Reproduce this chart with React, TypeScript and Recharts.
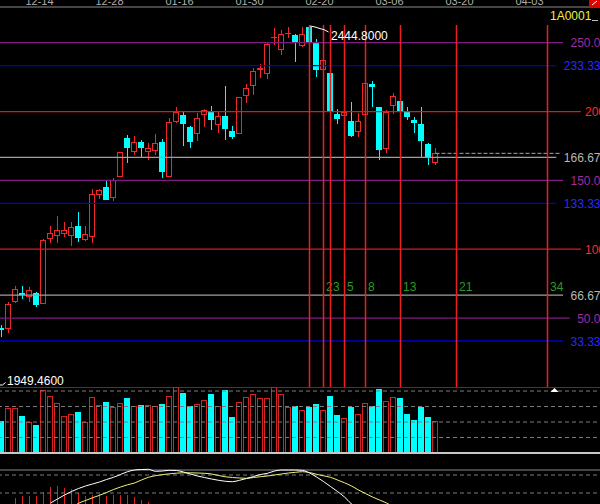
import React from 'react';
import { ComposedChart, Bar, Line, XAxis, YAxis, ReferenceLine, ReferenceDot } from 'recharts';

const FONT = '"Liberation Sans", Arial, sans-serif';
const RED = '#F02828';
const VOL_RED = '#D82222';
const CYAN = '#00FFFF';

// ---- price candles (index 0..62) ----
const opens = [1962.3, 1963.8, 2006.8, 2017.9, 2013.2, 2019.5, 2003.6, 2106.0, 2110.8, 2114.6, 2110.8, 2126.2, 2104.4, 2109.8, 2176.1, 2187.9, 2171.3, 2204.8, 2265.9, 2245.2, 2260.0, 2244.6, 2247.3, 2260.0, 2204.8, 2293.0, 2302.6, 2283.9, 2273.9, 2304.2, 2307.8, 2287.6, 2301.5, 2277.6, 2273.9, 2334.4, 2349.7, 2375.2, 2368.8, 2425.2, 2407.7, 2431.6, 2430.5, 2413.4, 2443.2, 2418.2, 2375.2, 2370.4, 2304.6, 2302.6, 2293.5, 2276.5, 2303.5, 2352.4, 2315.3, 2250.0, 2317.9, 2325.3, 2307.8, 2295.6, 2288.7, 2256.9, 2227.1];
const highs = [1968.6, 2005.2, 2030.7, 2030.2, 2029.1, 2021.1, 2105.5, 2126.2, 2142.2, 2132.1, 2132.1, 2148.6, 2126.2, 2184.7, 2184.7, 2197.9, 2202.2, 2244.1, 2271.2, 2270.1, 2263.2, 2258.9, 2272.3, 2264.8, 2297.8, 2315.3, 2307.8, 2286.0, 2305.7, 2313.1, 2317.4, 2307.8, 2349.2, 2285.5, 2332.2, 2352.4, 2377.4, 2384.3, 2417.2, 2441.6, 2438.4, 2442.7, 2432.0, 2444.0, 2444.8, 2423.6, 2391.8, 2370.4, 2312.1, 2308.6, 2324.2, 2305.7, 2354.0, 2357.2, 2315.3, 2311.0, 2337.6, 2325.3, 2315.3, 2300.3, 2315.3, 2258.9, 2250.9];
const lows = [1949.46, 1955.9, 2003.6, 2010.5, 2005.2, 1997.2, 2002.0, 2098.7, 2098.7, 2109.2, 2094.4, 2101.3, 2102.8, 2099.7, 2169.7, 2166.9, 2166.1, 2204.3, 2227.1, 2239.8, 2236.6, 2231.4, 2239.8, 2203.2, 2203.8, 2289.8, 2253.7, 2250.9, 2262.1, 2284.4, 2279.1, 2274.9, 2263.2, 2264.8, 2272.8, 2321.7, 2334.4, 2361.5, 2359.9, 2414.5, 2399.1, 2425.2, 2387.5, 2411.8, 2419.3, 2364.0, 2374.7, 2309.4, 2288.7, 2301.5, 2267.5, 2268.5, 2303.0, 2315.3, 2231.4, 2243.0, 2304.2, 2303.1, 2295.1, 2274.9, 2236.6, 2223.4, 2223.4];
const closes = [1960.7, 2000.5, 2025.9, 2016.4, 2024.3, 2000.5, 2103.9, 2115.1, 2118.3, 2118.3, 2124.2, 2107.6, 2113.0, 2176.7, 2183.1, 2167.7, 2199.5, 2243.0, 2250.9, 2260.0, 2250.9, 2249.4, 2258.0, 2212.7, 2291.9, 2307.8, 2289.2, 2260.0, 2297.8, 2311.0, 2295.1, 2301.0, 2280.8, 2268.0, 2331.7, 2345.6, 2373.1, 2377.4, 2416.1, 2426.8, 2431.6, 2433.2, 2418.2, 2431.6, 2419.8, 2374.7, 2390.2, 2309.9, 2296.2, 2307.8, 2269.6, 2293.0, 2353.5, 2348.1, 2247.8, 2307.3, 2332.8, 2307.3, 2300.3, 2290.8, 2262.1, 2236.1, 2242.0];

// ---- volume ----
const volumes = [206.5, 288.5, 288.5, 238.8, 202.0, 180.7, 406.6, 367.9, 324.7, 238.8, 251.7, 264.6, 202.0, 363.4, 311.8, 329.2, 298.8, 324.7, 355.0, 305.3, 311.8, 311.8, 305.3, 318.2, 367.9, 424.0, 389.2, 305.3, 316.3, 342.1, 380.8, 305.3, 406.6, 232.4, 329.2, 363.4, 380.8, 355.0, 355.0, 426.0, 380.8, 298.8, 305.3, 277.5, 298.8, 316.3, 277.5, 367.9, 245.3, 224.0, 298.8, 251.7, 324.7, 305.3, 413.0, 335.6, 363.4, 355.0, 251.7, 213.0, 298.8, 234.3, 206.5];

// ---- lower indicator (partly visible) ----
const difLine = [null, null, null, null, null, null, null, 27, 31, 35, 38.5, 41.5, 44, 46, 48, 50.5, 52.7, 55.5, 58.3, 60, 60.5, 60.7, 58.7, 59, 59.7, 59.5, 58, 56, 54, 52.5, 51, 49.7, 48.7, 48.3, 49.7, 51.5, 53.5, 55.5, 56.7, 59, 60, 60, 60, 59.7, 57, 53, 48.5, 43.5, 38.5, 33, 26, 20, null, null, null, null, null, null, null, null, null, null, null];
const deaLine = [null, null, null, null, null, null, null, null, null, null, 22, 26.7, 29.5, 32.2, 34.7, 37.5, 40.5, 43, 45.2, 47, 50, 52.7, 54.3, 55.4, 56.2, 56.8, 57.2, 57.2, 57, 56.7, 56, 54.5, 53.2, 52.5, 52, 51.7, 52.5, 53.3, 54, 55, 56, 57, 57.7, 58.3, 57.5, 55.7, 54.2, 52.7, 50, 47.2, 44, 40, 36.5, 33, 30, 27, 23, null, null, null, null, null, null];
const macdHist = [null, null, 32.5, 34.5, 34.5, 34.5, 38.3, 43.3, 44, 42.5, 40.7, 37, 33.7, 35, 36.3, 33.7, 35, 35, 35, 33, 30, 28.3];

// ---- axis / annotation labels ----
const dateTicks = [5, 15, 25, 35, 45, 55, 65, 75];
const dateLabels = ['12-14', '12-28', '01-16', '01-30', '02-20', '03-06', '03-20', '04-03'];

const levelPcts = [250, 233.33, 200, 166.67, 150, 133.33, 100, 66.67, 50, 33.33];
const levelLabels = ['250.0', '233.33', '200', '166.67', '150.0', '133.33', '100', '66.67', '50.0', '33.33'];
const levelKinds = ['purple', 'blue', 'red', 'gray', 'purple', 'blue', 'red', 'gray', 'purple', 'blue'];
const PCT_BASE = 1870.0;
const PCT_UNIT = 2.1928;

const HIGH_INDEX = 44;
const fibOffsets = [0, 2, 3, 5, 8, 13, 21, 34];
const fibLabels = ['', '2', '3', '5', '8', '13', '21', '34'];

const TOTAL_SLOTS = 87;
const Y_MIN = 1869.84;
const Y_MAX = 2475.06;

const KIND_STYLE: any = {
  purple: { line: '#801C80', text: '#A02CA0' },
  blue: { line: '#0000C8', text: '#2A2AFF' },
  red: { line: '#D41E1E', text: '#FF2A2A' },
  gray: { line: '#A0A0A0', text: '#B8B8B8' },
};

const data = Array.from({ length: TOTAL_SLOTS }, (_, i) => {
  const has = i < opens.length;
  return {
    i,
    o: has ? opens[i] : null,
    h: has ? highs[i] : null,
    l: has ? lows[i] : null,
    c: has ? closes[i] : null,
    range: has ? [lows[i], highs[i]] : null,
    vol: has ? volumes[i] : null,
    dif: difLine[i] ?? null,
    dea: deaLine[i] ?? null,
    hist: macdHist[i] ?? null,
  };
});

const Candle = (props: any) => {
  const { x, y, width, height, payload } = props;
  if (!payload || payload.h == null) return null;
  const top = Math.min(y, y + height);
  const hh = Math.abs(height);
  const span = payload.h - payload.l;
  const toY = (v: number) => (span > 0 ? top + ((payload.h - v) / span) * hh : top);
  const cx = x + width / 2;
  const yo = toY(payload.o);
  const yc = toY(payload.c);
  const bTop = Math.min(yo, yc);
  const bBot = Math.max(yo, yc);
  const up = payload.c >= payload.o;
  const col = up ? RED : CYAN;
  const bodyH = bBot - bTop;
  return (
    <g className="candle">
      <line x1={cx} x2={cx} y1={top} y2={bTop} stroke={col} strokeWidth={1} />
      <line x1={cx} x2={cx} y1={bBot} y2={top + hh} stroke={col} strokeWidth={1} />
      {bodyH < 1.2 ? (
        <line x1={cx - 3.5} x2={cx + 2.5} y1={bTop} y2={bTop} stroke={col} strokeWidth={1.4} />
      ) : up ? (
        <rect x={cx - 3} y={bTop} width={5} height={bodyH} fill="#000" stroke={col} strokeWidth={1} />
      ) : (
        <rect x={cx - 3.5} y={bTop} width={6} height={bodyH} fill={col} />
      )}
    </g>
  );
};

const VolBar = (props: any) => {
  const { x, y, width, height, payload } = props;
  if (!payload || payload.vol == null) return null;
  const cx = x + width / 2;
  if (payload.c >= payload.o) {
    return <rect className="vbar" x={cx - 3} y={y + 0.5} width={5} height={Math.max(height - 1, 0)} fill="#000" stroke={VOL_RED} strokeWidth={1} />;
  }
  return <rect className="vbar" x={cx - 3.5} y={y} width={6} height={height} fill={CYAN} />;
};

const HistBar = (props: any) => {
  const { x, y, width, height, payload } = props;
  if (!payload || payload.hist == null) return null;
  const cx = x + width / 2;
  return <line className="hbar" x1={cx} x2={cx} y1={y} y2={y + height} stroke="#E02020" strokeWidth={1} />;
};

const DateTick = (props: any) => {
  const { x, payload } = props;
  const idx = dateTicks.indexOf(payload.value);
  return (
    <text x={x + 3} y={5} fill="#AFAFAF" fontSize={11} fontFamily={FONT} textAnchor="middle">
      {idx >= 0 ? dateLabels[idx] : ''}
    </text>
  );
};

const LevelLabel = (props: any) => {
  const { viewBox, text, color } = props;
  if (!viewBox) return null;
  const y = viewBox.y;
  const endX = text.length <= 3 ? 607 : 602.5;
  const w = text.length * 6.7 + 3;
  return (
    <g>
      <rect x={endX - w - 1} y={y - 7} width={w + 20} height={14} fill="#000" />
      <text x={endX} y={y + 4.5} fill={color} fontSize={12} fontFamily={FONT} textAnchor="end">
        {text}
      </text>
    </g>
  );
};

const FibLabel = (props: any) => {
  const { viewBox, text } = props;
  if (!viewBox || !text) return null;
  return (
    <text x={viewBox.x + 2.5} y={291} fill="#2A9A2A" fontSize={12} fontFamily={FONT}>
      {text}
    </text>
  );
};

const PeakLabel = (props: any) => {
  const { viewBox } = props;
  if (!viewBox) return null;
  const cx = viewBox.x + (viewBox.width || 0) / 2;
  const cy = viewBox.y + (viewBox.height || 0) / 2;
  const pts = [
    [cx + 0.5, cy],
    [cx + 5.5, cy + 1],
    [cx + 10.5, cy + 2.6],
    [cx + 14.5, cy + 3.6],
    [cx + 19, cy + 6],
  ]
    .map((p) => p.join(','))
    .join(' ');
  return (
    <g>
      <polyline points={pts} fill="none" stroke="#FFFFFF" strokeWidth={1} />
      <text x={cx + 21.5} y={cy + 14.5} fill="#FFFFFF" fontSize={12} fontFamily={FONT}>
        2444.8000
      </text>
    </g>
  );
};

const LowLabel = (props: any) => {
  const { viewBox } = props;
  if (!viewBox) return null;
  const cx = viewBox.x + (viewBox.width || 0) / 2;
  return (
    <g>
      <polyline points={`${cx - 1.5},385 ${cx + 1},385 ${cx + 4},382.5`} fill="none" stroke="#FFFFFF" strokeWidth={1} />
      <text x={cx + 5.5} y={385} fill="#FFFFFF" fontSize={12} fontFamily={FONT}>
        1949.4600
      </text>
    </g>
  );
};

const TriangleMark = (props: any) => {
  const { viewBox } = props;
  if (!viewBox) return null;
  const cx = viewBox.x + (viewBox.width || 0) / 2;
  return <polygon points={`${cx - 4},${5} ${cx + 4},${5} ${cx},${1}`} fill="#FFFFFF" />;
};

const lastClose = closes[closes.length - 1];
const lastIndex = closes.length - 1;

export default function App() {
  return (
    <div style={{ position: 'absolute', left: 0, top: 0, width: 600, height: 504, overflow: 'hidden', background: '#000' }}>
      <style>{`.candle line, .candle rect, .vbar, .hbar { shape-rendering: crispEdges; }`}</style>
      {/* main price panel */}
      <div style={{ position: 'absolute', left: -2, top: 0 }}>
        <ComposedChart width={609} height={387} data={data} margin={{ top: 0, right: 0, bottom: 0, left: 0 }} barCategoryGap={0}>
          <XAxis
            dataKey="i"
            orientation="top"
            height={7}
            ticks={dateTicks}
            interval={0}
            tickLine={false}
            axisLine={{ stroke: '#8C8C8C' }}
            tick={<DateTick />}
          />
          <YAxis hide type="number" domain={[Y_MIN, Y_MAX]} allowDataOverflow />
          {levelPcts.map((p, k) => (
            <ReferenceLine
              key={'lv' + k}
              y={PCT_BASE + PCT_UNIT * p}
              stroke={KIND_STYLE[levelKinds[k]].line}
              strokeWidth={1.3}
              label={<LevelLabel text={levelLabels[k]} color={KIND_STYLE[levelKinds[k]].text} />}
            />
          ))}
          <ReferenceLine
            segment={[
              { x: lastIndex, y: lastClose },
              { x: 80, y: lastClose },
            ]}
            stroke="#A8A8A8"
            strokeDasharray="4 2"
          />
          <Bar dataKey="range" barSize={7} shape={<Candle />} isAnimationActive={false} />
          {fibOffsets.map((f, k) => (
            <ReferenceLine
              key={'fib' + k}
              segment={[
                { x: HIGH_INDEX + f, y: 2446.4 },
                { x: HIGH_INDEX + f, y: Y_MIN },
              ]}
              stroke="#EC1E1E"
              strokeWidth={1.5}
              label={<FibLabel text={fibLabels[k]} />}
            />
          ))}
          <ReferenceDot x={HIGH_INDEX} y={highs[HIGH_INDEX]} r={1} fill="none" stroke="none" label={<PeakLabel />} />
          <ReferenceDot x={0} y={lows[0]} r={1} fill="none" stroke="none" label={<LowLabel />} />
        </ComposedChart>
      </div>

      {/* volume panel */}
      <div style={{ position: 'absolute', left: -2, top: 387 }}>
        <ComposedChart width={609} height={68} data={data} margin={{ top: 0, right: 0, bottom: 2, left: 0 }} barCategoryGap={0}>
          <XAxis dataKey="i" hide />
          <YAxis hide type="number" domain={[0, 426]} allowDataOverflow />
          {[100, 200, 300, 400].map((v) => (
            <ReferenceLine key={'vg' + v} y={v} stroke="#7C7C7C" strokeDasharray="4 3" />
          ))}
          <Bar dataKey="vol" barSize={7} shape={<VolBar />} isAnimationActive={false} />
          <ReferenceLine y={426} stroke="#C81C1C" strokeWidth={1.5} />
          <ReferenceLine y={0} stroke="#C8C8C8" strokeWidth={2} />
          <ReferenceDot x={79} y={420} r={1} fill="none" stroke="none" label={<TriangleMark />} />
        </ComposedChart>
      </div>

      {/* indicator panel */}
      <div style={{ position: 'absolute', left: -2, top: 455 }}>
        <ComposedChart width={609} height={81} data={data} margin={{ top: 0, right: 0, bottom: 0, left: 0 }} barCategoryGap={0}>
          <XAxis dataKey="i" hide />
          <YAxis hide type="number" domain={[-6, 75]} allowDataOverflow />
          <ReferenceLine y={60} stroke="#8A8A8A" />
          <ReferenceLine y={55} stroke="#7A7A7A" strokeDasharray="4 3" />
          <ReferenceLine y={37} stroke="#7A7A7A" strokeDasharray="4 3" />
          <Bar dataKey="hist" barSize={7} shape={<HistBar />} isAnimationActive={false} />
          <Line type="monotone" dataKey="dea" stroke="#F0F07A" strokeWidth={1} dot={false} isAnimationActive={false} />
          <Line type="monotone" dataKey="dif" stroke="#FFFFFF" strokeWidth={1} dot={false} isAnimationActive={false} />
        </ComposedChart>
      </div>

      {/* top-right window decorations */}
      <svg width={600} height={40} style={{ position: 'absolute', left: 0, top: 0 }}>
        <rect x={548} y={8} width={42} height={14} fill="#000" />
        <text x={550} y={20} fill="#F0F040" fontSize={12} fontFamily={FONT}>
          1A0001
        </text>
        <line x1={592} x2={598} y1={20.5} y2={20.5} stroke="#C0C0C0" />
        <rect x={589} y={0} width={11} height={7} fill="#E00000" />
        <line x1={592} x2={597} y1={5} y2={1} stroke="#FFFFFF" />
      </svg>
    </div>
  );
}
